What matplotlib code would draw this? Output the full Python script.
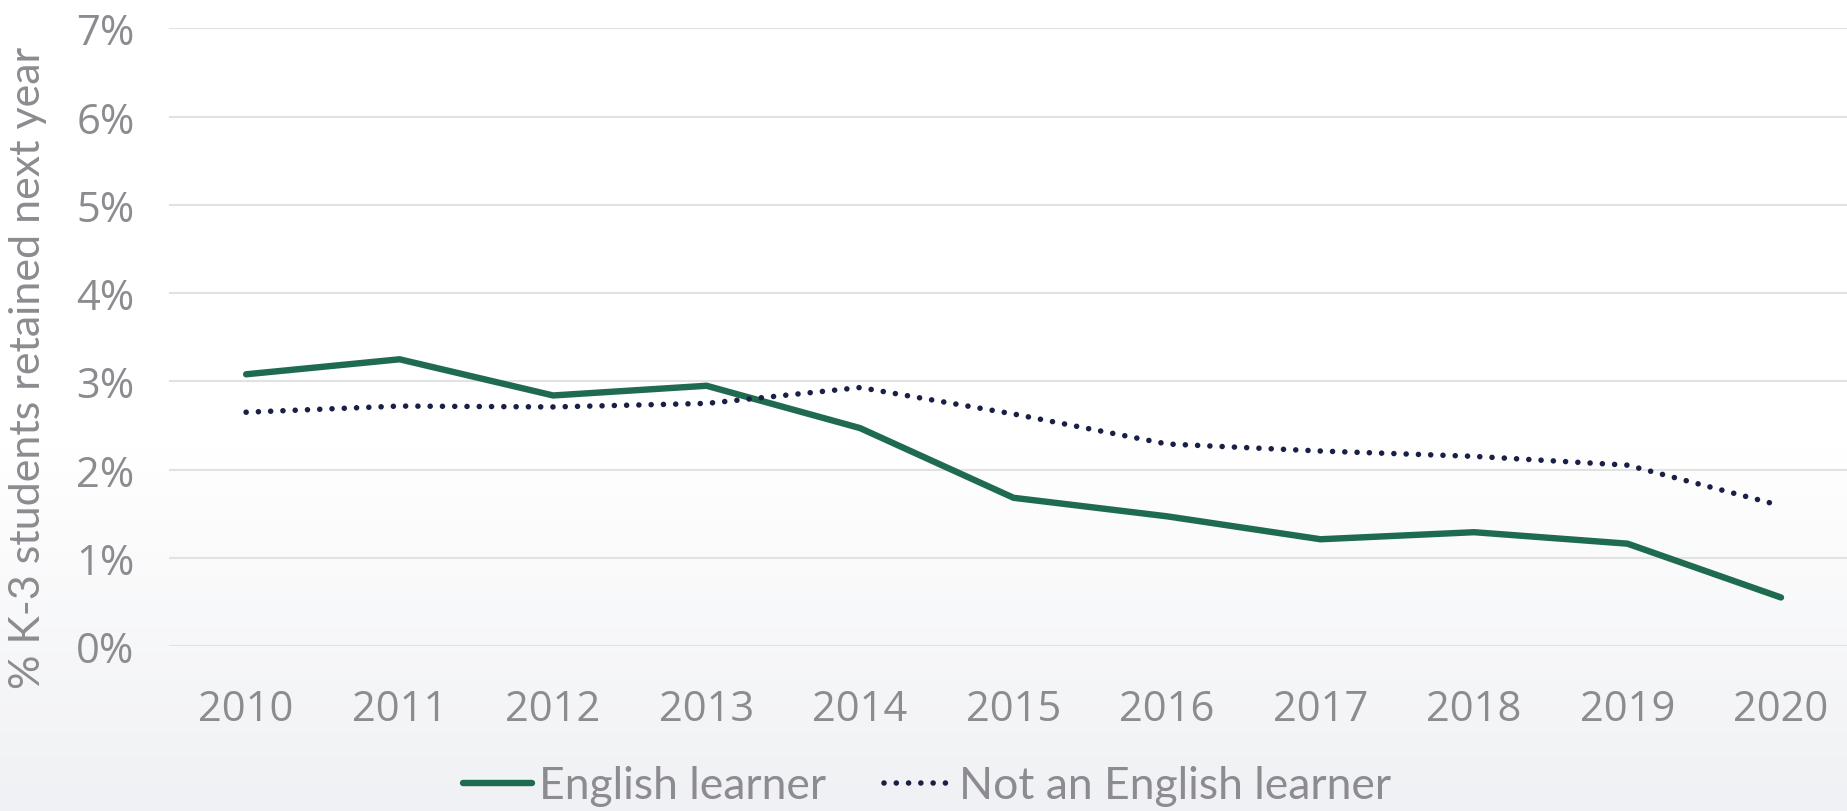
import numpy as np
import matplotlib
matplotlib.use("Agg")
import matplotlib.pyplot as plt
from matplotlib.colors import LinearSegmentedColormap

# data
years = ["2010", "2011", "2012", "2013", "2014", "2015", "2016", "2017", "2018", "2019", "2020"]
english_learner = [3.08, 3.25, 2.84, 2.95, 2.47, 1.68, 1.47, 1.21, 1.29, 1.16, 0.55]
not_english_learner = [2.65, 2.72, 2.71, 2.75, 2.93, 2.63, 2.29, 2.21, 2.15, 2.05, 1.59]
y_ticks = [0, 1, 2, 3, 4, 5, 6, 7]

W, H = 1847, 812
fig = plt.figure(figsize=(W / 100, H / 100), dpi=100)

# soft background gradient: white on top, light grey at the bottom
bg = fig.add_axes([0, 0, 1, 1], zorder=-10)
bg.axis("off")
grad = np.linspace(0, 1, 256).reshape(-1, 1)
cmap = LinearSegmentedColormap.from_list("bg", [(0, "#f0f1f4"), (0.45, "#ffffff"), (1, "#ffffff")])
bg.imshow(grad, aspect="auto", cmap=cmap, origin="lower", extent=[0, 1, 0, 1])

text_grey = "#8b8b90"
green = "#1f6b4f"
navy = "#1a1f45"
narrow = ["Lato", "DejaVu Sans"]

ax = fig.add_axes([0.0917, 0.2032, 0.9083, 0.7605])
ax.patch.set_alpha(0)
x = np.arange(len(years))
ax.plot(x, english_learner, color=green, lw=4.6, solid_capstyle="round",
        solid_joinstyle="miter", label="English learner", zorder=3)
ax.plot(x, not_english_learner, color=navy, lw=4.0, dashes=(0.01, 2.2),
        dash_capstyle="round", label="Not an English learner", zorder=3)

ax.set_xlim(-0.5, 10.43)
ax.set_ylim(0, 7)
ax.set_yticks(y_ticks)
ax.set_yticklabels([f"{v}%" for v in y_ticks])
ax.set_xticks(x)
ax.set_xticklabels(years)
ax.grid(axis="y", color="#e2e2e2", lw=1.5)
ax.set_axisbelow(True)
for s in ax.spines.values():
    s.set_visible(False)
ax.tick_params(length=0, labelsize=30, colors=text_grey, labelfontfamily="Open Sans")
ax.tick_params(axis="y", pad=25)
ax.tick_params(axis="x", pad=30)

fig.text(0.015, 0.547, "% K-3 students retained next year", rotation=90,
         ha="center", va="center", fontsize=31, color=text_grey, family=narrow)

leg = fig.legend(loc="center", bbox_to_anchor=(0.502, 0.031), ncol=2, frameon=False,
                 handlelength=1.55, handletextpad=0.15, columnspacing=1.3,
                 prop={"family": narrow, "size": 32})
for t in leg.get_texts():
    t.set_color(text_grey)

fig.savefig("out.png", dpi=100)
